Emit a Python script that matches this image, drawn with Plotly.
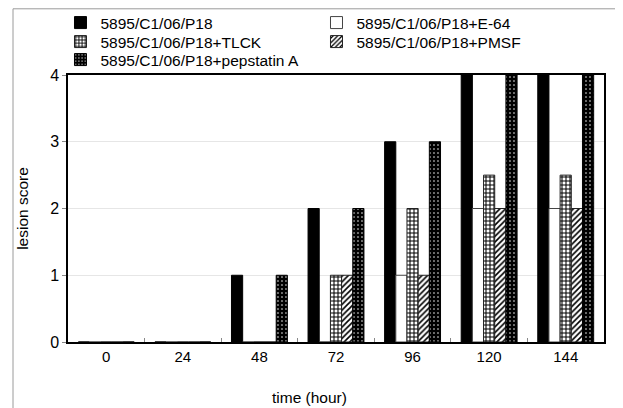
import plotly.graph_objects as go

categories = ["0", "24", "48", "72", "96", "120", "144"]
series_names = [
    "5895/C1/06/P18",
    "5895/C1/06/P18+E-64",
    "5895/C1/06/P18+TLCK",
    "5895/C1/06/P18+PMSF",
    "5895/C1/06/P18+pepstatin A",
]
p18 = [0, 0, 1, 2, 3, 4, 4]
e64 = [0, 0, 0, 0, 1, 2, 2]
tlck = [0, 0, 0, 1, 2, 2.5, 2.5]
pmsf = [0, 0, 0, 1, 1, 2, 2]
pepstatin = [0, 0, 1, 2, 3, 4, 4]
y_ticks = [0, 1, 2, 3, 4]

styles = [
    dict(color="black", line=dict(color="black", width=1)),
    dict(color="white", line=dict(color="#444444", width=1)),
    dict(color="white", line=dict(color="#222222", width=1),
         pattern=dict(shape="+", fgcolor="black", bgcolor="white", size=4, solidity=0.45, fillmode="replace")),
    dict(color="white", line=dict(color="#222222", width=1),
         pattern=dict(shape="/", fgcolor="black", bgcolor="white", size=4, solidity=0.4, fillmode="replace")),
    dict(color="black", line=dict(color="black", width=1),
         pattern=dict(shape=".", fgcolor="white", bgcolor="black", size=4, solidity=0.12, fillmode="replace")),
]
legend_rows = ["legend", "legend", "legend2", "legend2", "legend3"]

fig = go.Figure()
for name, vals, st, lg in zip(series_names, [p18, e64, tlck, pmsf, pepstatin], styles, legend_rows):
    fig.add_trace(go.Bar(x=categories, y=vals, name=name, marker=st, legend=lg))

# page has an 8px body margin: figure is 615x400, offsets are page px - 8
W, H = 615, 400
L, R, T, B = 60, 19, 67, 66
PW, PH = W - L - R, H - T - B

FONT = "Liberation Sans, Arial, sans-serif"


def row_legend(fig_y):
    return dict(orientation="h", x=-0.014, xanchor="left", y=(H - B - fig_y) / PH, yanchor="middle",
                entrywidth=211, font=dict(family=FONT, size=15.5, color="black"),
                bgcolor="rgba(0,0,0,0)", itemwidth=30)


fig.update_layout(
    width=W, height=H,
    margin=dict(l=L, r=R, t=T, b=B, autoexpand=False),
    paper_bgcolor="white", plot_bgcolor="white",
    barmode="group", bargap=0.27, bargroupgap=0,
    font=dict(family=FONT, size=15, color="black"),
    legend=row_legend(15), legend2=row_legend(34), legend3=row_legend(52),
    showlegend=True,
    annotations=[dict(text="time (hour)", xref="paper", yref="paper",
                      x=(301 - L) / PW, y=(H - B - 389) / PH, xanchor="center", yanchor="middle",
                      showarrow=False, font=dict(family=FONT, size=15.5, color="black"))],
    shapes=[dict(type="rect", xref="paper", yref="paper",
                 x0=(5 - L) / PW, x1=1.3, y0=-0.6, y1=(H - B - 0.8) / PH,
                 line=dict(color="#9a9a9a", width=1), layer="below")],
)
fig.update_xaxes(type="category", showline=True, linecolor="black", linewidth=1.5, mirror=True,
                 ticks="inside", tickson="boundaries", ticklen=4, tickcolor="#888888",
                 tickfont=dict(family=FONT, size=15, color="black"), showgrid=False)
fig.update_yaxes(range=[0, 4], tickvals=y_ticks, showline=True, linecolor="black", linewidth=1.5,
                 mirror=True, ticks="outside", ticklen=4, tickcolor="#888888",
                 showgrid=True, gridcolor="#e6e6e6", zeroline=False,
                 tickfont=dict(family=FONT, size=16, color="black"),
                 title=dict(text="lesion score", font=dict(family=FONT, size=15.5, color="black"), standoff=18))

fig.write_html("out.html")
